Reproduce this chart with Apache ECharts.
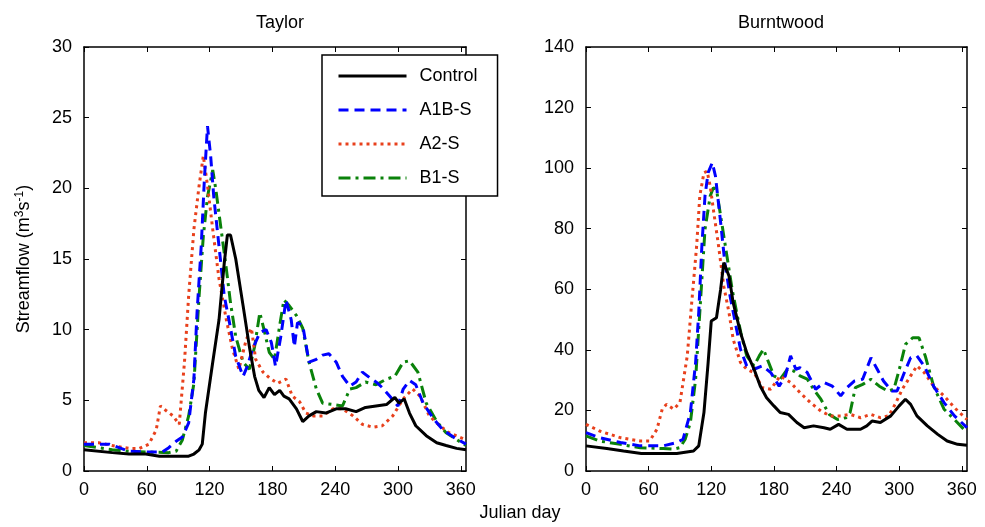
<!DOCTYPE html>
<html><head><meta charset="utf-8">
<script src="https://cdn.jsdelivr.net/npm/echarts@6/dist/echarts.min.js"></script>
<style>html,body{margin:0;padding:0;background:#fff}#c{width:985px;height:527px}</style>
</head><body><div id="c"></div>
<script>
const dayTicks = [0, 60, 120, 180, 240, 300, 360];
const taylorTicks = [0, 5, 10, 15, 20, 25, 30];
const burntTicks = [0, 20, 40, 60, 80, 100, 120, 140];
const panelTitles = ['Taylor', 'Burntwood'];
const seriesNames = ['Control', 'A1B-S', 'A2-S', 'B1-S'];

// Taylor [day, streamflow]
const taylorControl = [[0,1.5],[27,1.3],[43,1.2],[59,1.2],[72,1.05],[90,1.05],[100,1.05],[105,1.2],[110,1.5],[113,1.9],[116,4.1],[123,7.7],[129,10.7],[134,14.7],[137,16.7],[140,16.7],[145,15],[152,11.7],[158,8.8],[163,6.7],[167,5.7],[172,5.2],[177,5.9],[182,5.4],[187,5.7],[191,5.3],[196,5.1],[203,4.4],[209,3.5],[215,3.9],[222,4.2],[231,4.1],[241,4.4],[250,4.4],[260,4.2],[269,4.5],[279,4.6],[289,4.7],[297,5.2],[301,4.8],[306,5.1],[311,4.1],[317,3.2],[327,2.5],[337,2.0],[346,1.8],[356,1.6],[365,1.5]];
const taylorA1B = [[0,1.9],[24,1.9],[43,1.4],[59,1.35],[75,1.35],[81,1.65],[88,2.1],[94,2.4],[100,3.4],[105,6.5],[108,11.2],[112,15.9],[115,20.6],[118,24.4],[121,22.3],[124,19.4],[129,15.9],[134,12.4],[139,10.5],[145,8.1],[152,6.7],[156,7.4],[161,8.6],[168,9.8],[174,10.0],[179,9.1],[183,7.4],[188,9.5],[193,12.1],[198,10.7],[201,8.8],[204,10.5],[209,10.3],[215,7.7],[222,7.9],[228,8.2],[234,8.3],[241,7.7],[247,6.7],[254,6.0],[260,6.3],[266,7.0],[273,6.6],[279,6.3],[285,5.9],[292,5.3],[300,4.6],[305,5.8],[311,6.4],[317,6.1],[324,4.8],[334,3.7],[343,2.9],[353,2.4],[365,1.9]];
const taylorA2 = [[0,2.0],[14,2.0],[27,1.8],[43,1.6],[53,1.6],[62,1.9],[69,2.9],[73,4.6],[78,4.3],[85,3.9],[91,3.3],[96,7.7],[100,12.4],[105,17.1],[110,20.2],[114,22.3],[118,20.2],[123,17.1],[129,13.6],[136,10.7],[142,8.6],[148,7.2],[155,9.3],[160,10.1],[164,7.9],[171,7.0],[177,6.6],[185,6.2],[193,6.5],[199,5.3],[206,4.9],[212,4.1],[219,3.9],[228,3.9],[238,4.4],[247,4.4],[257,3.9],[266,3.3],[276,3.1],[285,3.2],[295,3.9],[305,5.1],[314,5.8],[321,5.3],[330,3.9],[340,3.2],[349,2.7],[365,2.2]];
const taylorB1 = [[0,1.8],[27,1.5],[43,1.4],[59,1.35],[81,1.3],[88,1.4],[94,2.2],[100,3.9],[105,6.2],[110,12.4],[114,16.6],[118,19.4],[123,21.3],[126,19.9],[131,17.1],[136,14.3],[140,11.9],[145,9.5],[152,7.7],[158,7.2],[163,8.8],[168,11.2],[172,10.0],[177,8.4],[182,7.9],[187,10.3],[191,12.1],[196,11.7],[203,11.0],[209,10.1],[215,7.7],[222,5.8],[228,4.8],[238,4.7],[247,4.6],[254,5.8],[260,5.9],[269,6.3],[279,6.1],[289,6.5],[297,6.7],[305,7.7],[311,7.8],[319,7.0],[327,4.8],[337,3.5],[346,2.7],[365,1.8]];

// Burntwood [day, streamflow]
const burntControl = [[0,8.3],[20,7.4],[36,6.6],[53,5.8],[74,5.8],[87,5.8],[103,6.6],[108,8.3],[113,19.3],[117,35.8],[120,49.5],[125,50.6],[129,60],[132,68.8],[137,64.4],[141,55.6],[148,45.7],[154,39.1],[161,33.6],[167,28],[173,24.2],[180,21.5],[186,19.3],[194,18.7],[202,16],[209,14.3],[218,14.9],[228,14.3],[234,13.8],[242,15.4],[250,13.8],[263,13.8],[269,14.9],[274,16.5],[282,16],[292,18.2],[300,21.5],[306,23.7],[311,22],[317,18.2],[327,14.9],[337,12.1],[346,9.9],[356,8.8],[365,8.5]];
const burntA1B = [[0,12.7],[13,11],[33,9.4],[52,8.3],[74,8.3],[87,9.4],[93,10.5],[100,19.3],[105,35.8],[108,52.3],[111,74.3],[114,90.8],[117,98.5],[121,101.8],[124,97.4],[129,82],[133,68.8],[138,57.8],[143,49],[148,40.2],[154,34.7],[161,33.6],[169,34.7],[177,32.5],[185,28],[191,31.4],[196,38],[201,33.6],[205,34.1],[212,32.5],[220,27],[228,29.2],[236,28],[244,24.8],[250,27.5],[257,29.7],[265,30.3],[273,37.4],[279,33.6],[285,29.7],[293,26.4],[298,26.4],[305,32.5],[311,37.4],[317,38],[324,34.7],[333,28],[343,22.6],[353,18.2],[365,14.3]];
const burntA2 = [[0,15.4],[13,13.2],[33,11],[52,9.9],[61,9.9],[68,13.8],[73,20.4],[77,22],[84,20.4],[90,22.6],[97,38],[101,54.5],[106,74.3],[109,90.8],[113,98.5],[116,99],[119,94],[122,86.4],[127,74.3],[132,61],[137,52.3],[141,43.5],[148,35.8],[154,33.6],[161,32.5],[169,27.5],[177,27],[186,31.4],[196,29.2],[205,25.9],[215,22.6],[225,19.8],[234,18.2],[244,18.2],[253,18.7],[263,17.6],[273,18.7],[282,17.6],[290,18.2],[297,22.6],[303,27],[311,31.4],[317,34.7],[324,32.5],[333,28],[343,24.8],[353,20.9],[365,17]];
const burntB1 = [[0,11.6],[13,9.9],[33,8.8],[52,7.7],[74,7.4],[84,7.2],[90,7.7],[95,10.5],[100,16],[105,30.3],[110,57.8],[114,79.8],[119,90.8],[122,93.5],[125,93],[130,82],[135,71],[140,60],[145,51.2],[149,44.6],[154,38],[161,34.7],[166,38],[170,40.2],[175,35.8],[180,31.4],[186,30.3],[193,33.6],[199,33],[205,31.4],[212,30.3],[218,27],[225,23.7],[233,18.7],[241,17],[249,17.6],[253,19.3],[258,27.5],[265,28.6],[273,30.3],[281,28],[289,26.4],[295,27],[301,34.7],[306,41.8],[313,44],[319,44],[325,38],[333,28],[343,20.4],[353,17],[365,12.7]];

const FONT = '"Liberation Sans", Arial, Helvetica, sans-serif';
const styles = [
  {color: '#000000', type: 'solid', width: 3},
  {color: '#0000ff', type: [10, 6], width: 3},
  {color: '#e8401c', type: [3, 4], width: 3},
  {color: '#0a820a', type: [12, 5, 3, 5], width: 3}
];

const grids = [
  {left: 84, top: 47, width: 382, height: 424},
  {left: 586, top: 47, width: 381, height: 424}
];

function xAxes(gi) {
  const base = {
    gridIndex: gi, type: 'value', min: 0, max: 365,
    axisLine: {show: true, onZero: false, lineStyle: {color: '#000', width: 1.5}},
    splitLine: {show: false}
  };
  return [
    Object.assign({}, base, {
      position: 'bottom',
      axisTick: {show: true, inside: true, length: 5, customValues: dayTicks, lineStyle: {color: '#000'}},
      axisLabel: {show: true, customValues: dayTicks, margin: 10, color: '#000', fontSize: 18, fontFamily: FONT}
    }),
    Object.assign({}, base, {
      position: 'top',
      axisTick: {show: true, inside: true, length: 5, customValues: dayTicks, lineStyle: {color: '#000'}},
      axisLabel: {show: false}
    })
  ];
}
function yAxes(gi, maxV, interval, ticks) {
  const base = {
    gridIndex: gi, type: 'value', min: 0, max: maxV, interval: interval,
    axisLine: {show: true, onZero: false, lineStyle: {color: '#000', width: 1.5}},
    splitLine: {show: false}
  };
  return [
    Object.assign({}, base, {
      position: 'left',
      axisTick: {show: true, inside: true, length: 5, lineStyle: {color: '#000'}},
      axisLabel: {show: true, margin: 12, color: '#000', fontSize: 18, fontFamily: FONT}
    }),
    Object.assign({}, base, {
      position: 'right',
      axisTick: {show: true, inside: true, length: 5, lineStyle: {color: '#000'}},
      axisLabel: {show: false}
    })
  ];
}

const panelData = [
  [taylorControl, taylorA1B, taylorA2, taylorB1],
  [burntControl, burntA1B, burntA2, burntB1]
];
const series = [];
panelData.forEach((arrs, gi) => {
  arrs.forEach((d, si) => {
    series.push({
      name: seriesNames[si], type: 'line', data: d,
      xAxisIndex: gi * 2, yAxisIndex: gi * 2,
      symbol: 'none', showSymbol: false, smooth: false,
      z: 10 - si,
      lineStyle: styles[si], itemStyle: {color: styles[si].color},
      emphasis: {disabled: true}, animation: false
    });
  });
});

const chart = echarts.init(document.getElementById('c'), null, {renderer: 'canvas'});
chart.setOption({
  backgroundColor: '#fff',
  animation: false,
  title: [
    {text: panelTitles[0], left: 275, top: 9, textAlign: 'center', textStyle: {fontSize: 18, fontWeight: 'normal', color: '#000', fontFamily: FONT}},
    {text: panelTitles[1], left: 776, top: 9, textAlign: 'center', textStyle: {fontSize: 18, fontWeight: 'normal', color: '#000', fontFamily: FONT}}
  ],
  grid: grids,
  xAxis: xAxes(0).concat(xAxes(1)),
  yAxis: yAxes(0, 30, 5, taylorTicks).concat(yAxes(1, 140, 20, burntTicks)),
  legend: {
    data: seriesNames, orient: 'vertical', left: 322, top: 55,
    backgroundColor: '#fff', borderColor: '#000', borderWidth: 1.5, borderRadius: 0,
    padding: [12, 20, 9, 15], itemWidth: 68, itemHeight: 20, itemGap: 16,
    selectedMode: false,
    itemStyle: {opacity: 0, borderWidth: 0},
    lineStyle: {width: 3},
    textStyle: {fontSize: 18, color: '#000', fontFamily: FONT, padding: [0, 0, 0, 8]}
  },
  graphic: [
    {type: 'text', x: 24, y: 259, rotation: Math.PI / 2,
     style: {text: 'Streamflow (m{s|3}s{s|-1})', font: '18px ' + FONT, fill: '#000', align: 'center', verticalAlign: 'middle',
       rich: {s: {fontSize: 12, fontFamily: FONT, verticalAlign: 'top', padding: [0, 0, 8, 0]}}}},
    {type: 'text', x: 520, y: 513,
     style: {text: 'Julian day', font: '18px ' + FONT, fill: '#000', align: 'center', verticalAlign: 'middle'}}
  ],
  series: series
});
</script></body></html>
